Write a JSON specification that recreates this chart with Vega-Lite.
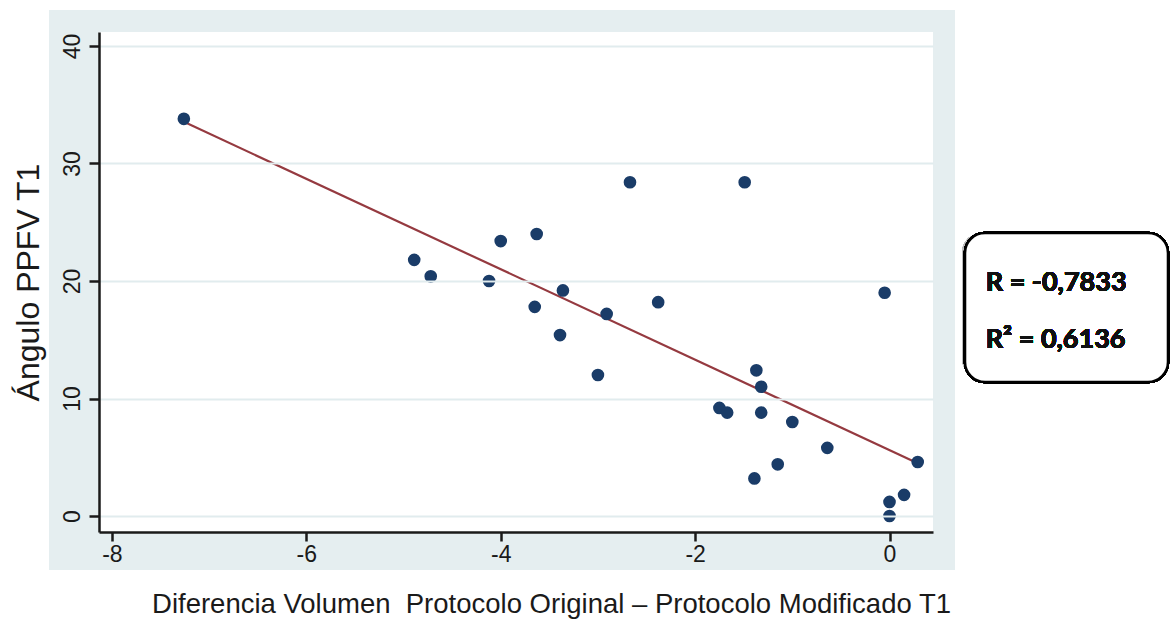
{
  "$schema": "https://vega.github.io/schema/vega-lite/v6.json",
  "autosize": "none",
  "width": 834,
  "height": 500,
  "padding": {"left": 99, "top": 32, "right": 237, "bottom": 95},
  "background": "white",
  "config": {
    "view": {"stroke": null},
    "font": "Liberation Sans"
  },
  "data": {
    "values": [
      {"dif": -7.26, "ang": 33.8},
      {"dif": -4.89, "ang": 21.8},
      {"dif": -4.72, "ang": 20.4},
      {"dif": -4.12, "ang": 20.0},
      {"dif": -4.0, "ang": 23.4},
      {"dif": -3.63, "ang": 24.0},
      {"dif": -3.65, "ang": 17.8},
      {"dif": -3.36, "ang": 19.2},
      {"dif": -3.39, "ang": 15.4},
      {"dif": -3.0, "ang": 12.0},
      {"dif": -2.91, "ang": 17.2},
      {"dif": -2.67, "ang": 28.4},
      {"dif": -2.38, "ang": 18.2},
      {"dif": -1.49, "ang": 28.4},
      {"dif": -1.75, "ang": 9.2},
      {"dif": -1.67, "ang": 8.8},
      {"dif": -1.37, "ang": 12.4},
      {"dif": -1.32, "ang": 11.0},
      {"dif": -1.32, "ang": 8.8},
      {"dif": -1.39, "ang": 3.2},
      {"dif": -1.15, "ang": 4.4},
      {"dif": -1.0, "ang": 8.0},
      {"dif": -0.64, "ang": 5.8},
      {"dif": -0.05, "ang": 19.0},
      {"dif": 0.29, "ang": 4.6},
      {"dif": 0.15, "ang": 1.8},
      {"dif": 0.0, "ang": 1.2},
      {"dif": 0.0, "ang": 0.0}
    ]
  },
  "encoding": {
    "x": {
      "field": "dif",
      "type": "quantitative",
      "scale": {"domain": [-8.133, 0.4475], "nice": false, "zero": false},
      "axis": {
        "values": [-8, -6, -4, -2, 0],
        "labelExpr": "replace(datum.label, '\u2212', '-')",
        "title": "Diferencia Volumen\u00a0 Protocolo Original – Protocolo Modificado T1",
        "titleFont": "Liberation Sans",
        "titleFontSize": 27.5,
        "titleFontWeight": "normal",
        "titleColor": "#1a1a1a",
        "titlePadding": 24,
        "titleX": 452,
        "labelFontSize": 23,
        "labelColor": "#1a1a1a",
        "labelPadding": 2,
        "domainColor": "#1a1a1a",
        "domainWidth": 2.5,
        "tickColor": "#1a1a1a",
        "tickWidth": 2.5,
        "tickSize": 9,
        "grid": false,
        "zindex": 1
      }
    },
    "y": {
      "field": "ang",
      "type": "quantitative",
      "scale": {"domain": [-1.36, 41.19], "nice": false, "zero": false},
      "axis": {
        "values": [0, 10, 20, 30, 40],
        "title": "Ángulo PPFV T1",
        "titleFont": "Liberation Sans",
        "titleFontSize": 32,
        "titleFontWeight": "normal",
        "titleColor": "#1a1a1a",
        "titlePadding": 16,
        "titleY": 250,
        "labelAngle": -90,
        "labelAlign": "center",
        "labelBaseline": "bottom",
        "labelFontSize": 23,
        "labelColor": "#1a1a1a",
        "labelPadding": 5,
        "domainColor": "#1a1a1a",
        "domainWidth": 2.5,
        "tickColor": "#1a1a1a",
        "tickWidth": 2.5,
        "tickSize": 10,
        "grid": true,
        "gridColor": "#e1ecee",
        "gridWidth": 2,
        "zindex": 1
      }
    }
  },
  "layer": [
    {
      "mark": {"type": "rect", "fill": "#e5eef0", "clip": false},
      "encoding": {
        "x": {"datum": -8.647},
        "x2": {"datum": 0.674},
        "y": {"datum": -4.6},
        "y2": {"datum": 43.06}
      }
    },
    {
      "mark": {"type": "rect", "fill": "white", "clip": false},
      "encoding": {
        "x": {"datum": -8.133},
        "x2": {"datum": 0.4475},
        "y": {"datum": -1.36},
        "y2": {"datum": 41.19}
      }
    },
    {
      "transform": [{"regression": "ang", "on": "dif"}],
      "mark": {"type": "line", "color": "#953a40", "strokeWidth": 2.2}
    },
    {
      "mark": {"type": "circle", "color": "#1a3c68", "opacity": 1, "size": 160}
    },
    {
      "mark": {"type": "rect", "fill": "#bbbbbb", "opacity": 0.5, "cornerRadius": 20, "clip": false, "xOffset": -3, "yOffset": -4},
      "encoding": {
        "x": {"datum": 0.777},
        "x2": {"datum": 2.865},
        "y": {"datum": 11.4},
        "y2": {"datum": 24.09}
      }
    },
    {
      "mark": {"type": "rect", "fill": "white", "stroke": "black", "strokeWidth": 2.5, "cornerRadius": 20, "clip": false},
      "encoding": {
        "x": {"datum": 0.777},
        "x2": {"datum": 2.865},
        "y": {"datum": 11.4},
        "y2": {"datum": 24.09}
      }
    },
    {
      "mark": {"type": "text", "text": "R = -0,7833", "font": "Lato", "fontWeight": "bold", "fontSize": 27, "align": "left", "baseline": "middle", "color": "#111111"},
      "encoding": {
        "x": {"datum": 0.99},
        "y": {"datum": 19.8}
      }
    },
    {
      "mark": {"type": "text", "text": "R² = 0,6136", "font": "Lato", "fontWeight": "bold", "fontSize": 27, "align": "left", "baseline": "middle", "color": "#111111"},
      "encoding": {
        "x": {"datum": 0.99},
        "y": {"datum": 14.95}
      }
    }
  ]
}
